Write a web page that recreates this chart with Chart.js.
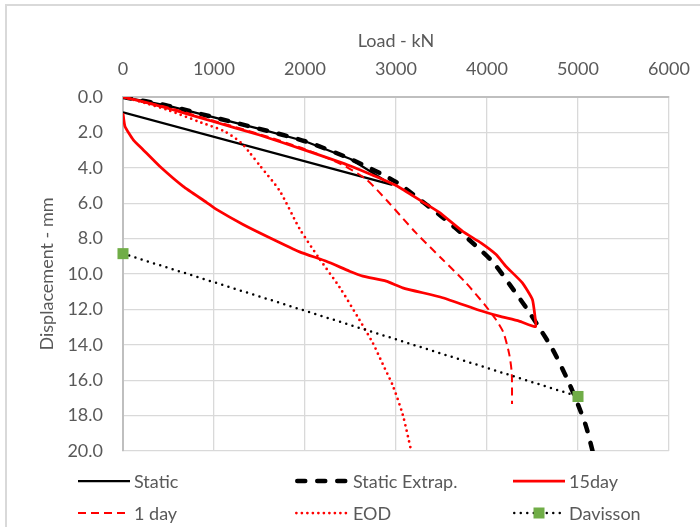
<!DOCTYPE html>
<html><head><meta charset="utf-8">
<script src="https://cdn.jsdelivr.net/npm/chart.js@4"></script>
<style>
html,body{margin:0;padding:0;background:#fff;}
#wrap{position:relative;width:700px;height:527px;overflow:hidden;font-family:Lato,'Open Sans',sans-serif;}
#frame{position:absolute;left:5px;top:4px;width:740px;height:580px;border:2px solid #d9d9d9;box-sizing:border-box;}
canvas{position:absolute;left:0;top:0;}
.lgi{position:absolute;height:22px;}
.lgi svg{position:absolute;left:0;top:0;}
.lgi span{position:absolute;top:0;font-size:18px;line-height:22px;color:#595959;white-space:nowrap;}
</style></head><body>
<div id="wrap"><div id="frame"></div><canvas id="c" width="700" height="527"></canvas><div id="legend"></div></div>
<script>
// ---- data (load in kN, displacement in mm) ----
const xTickValues = [0, 1000, 2000, 3000, 4000, 5000, 6000];
const yTickValues = [0, 2, 4, 6, 8, 10, 12, 14, 16, 18, 20];
const seriesNames = ['Static', 'Static Extrap.', '15day', '1 day', 'EOD', 'Davisson'];

const staticLoad = [0, 500, 1000, 1500, 2000, 2500, 2950, 0];
const staticDisp = [0, 0.5, 1.15, 1.8, 2.5, 3.5, 4.95, 0.86];

const extrapLoad = [0, 500, 1000, 1500, 2000, 2500, 3000, 3300, 3500, 3800, 4060, 4250, 4430, 4570, 4720, 4865, 4975, 5085, 5160];
const extrapDisp = [0, 0.5, 1.15, 1.8, 2.5, 3.5, 4.8, 5.95, 6.75, 8.05, 9.3, 10.6, 11.9, 13.0, 14.25, 15.75, 17.05, 18.55, 20.0];

const day15Load = [0, 250, 500, 1000, 1500, 2000, 2500, 3000, 3300, 3476, 3732, 3933, 4100, 4207, 4389, 4499, 4529, 4536,
                   4353, 4134, 3914, 3512, 3074, 2891, 2635, 2489, 2234, 1941, 1612, 1319, 1027, 917, 661, 406, 223, 113, 22, 0];
const day15Disp = [0, 0.3, 0.65, 1.4, 2.15, 3.0, 3.9, 5.0, 5.95, 6.52, 7.59, 8.24, 8.9, 9.56, 10.5, 11.44, 12.47, 12.98,
                   12.66, 12.38, 12.05, 11.34, 10.78, 10.4, 10.12, 9.84, 9.28, 8.75, 7.95, 7.2, 6.35, 5.95, 5.05, 3.93, 2.99, 2.42, 1.67, 0.92];

const day1Load = [0, 500, 1000, 1500, 2000, 2400, 2672, 2900, 3220, 3512, 3768, 3987, 4096, 4180, 4243, 4272, 4275];
const day1Disp = [0, 0.6, 1.35, 2.1, 2.95, 3.8, 4.65, 5.85, 7.68, 9.18, 10.5, 11.81, 12.56, 13.3, 14.5, 15.6, 17.35];

const eodLoad = [0, 250, 500, 862, 1118, 1301, 1400, 1500, 1721, 1941, 2160, 2380, 2599, 2745, 2855, 2964, 3074, 3165];
const eodDisp = [0, 0.35, 0.75, 1.45, 1.95, 2.6, 3.2, 3.85, 5.3, 7.45, 9.15, 10.75, 12.6, 13.9, 15.1, 16.3, 17.95, 19.95];

const davLoad = [0, 5000];
const davDisp = [8.85, 16.92];

const zip = (xs, ys) => xs.map((x, i) => ({x: x, y: ys[i]}));
const FONT = 'Lato, "Open Sans", sans-serif';
const TXT = '#595959';

const styles = [
  {color:'#000000', width:2.25, dash:[], cap:'butt', tension:0, order:6},
  {color:'#000000', width:4.5, dash:[8,12], cap:'round', tension:0.25, order:5},
  {color:'#ff0000', width:2.75, dash:[], cap:'butt', tension:0.15, order:4},
  {color:'#ff0000', width:2, dash:[8,5], cap:'butt', tension:0.25, order:3},
  {color:'#ff0000', width:2.75, dash:[0,5.5], cap:'round', tension:0.25, order:2},
  {color:'#000000', width:2.5, dash:[0,6.5], cap:'round', tension:0, order:1}
];
const seriesData = [
  zip(staticLoad, staticDisp), zip(extrapLoad, extrapDisp), zip(day15Load, day15Disp),
  zip(day1Load, day1Disp), zip(eodLoad, eodDisp), zip(davLoad, davDisp)
];

const datasets = seriesNames.map((name, i) => {
  const s = styles[i];
  const isDav = name === 'Davisson';
  return {
    label: name, data: seriesData[i], order: s.order,
    borderColor: s.color, backgroundColor: s.color, borderWidth: s.width,
    borderDash: s.dash, borderCapStyle: s.cap, borderJoinStyle: 'round',
    tension: s.tension, fill: false,
    pointRadius: isDav ? 7.8 : 0, pointStyle: 'rect',
    pointBackgroundColor: '#70ad47', pointBorderColor: '#70ad47', pointBorderWidth: 0,
    clip: isDav ? false : undefined
  };
});

new Chart(document.getElementById('c'), {
  type: 'line',
  data: {datasets},
  options: {
    responsive: false, animation: false, devicePixelRatio: 1,
    layout: {padding: {left: 0, top: 10, right: 31, bottom: 76}},
    plugins: {legend: {display: false}, tooltip: {enabled: false}},
    scales: {
      x: {
        type: 'linear', position: 'top', min: xTickValues[0], max: xTickValues[xTickValues.length - 1],
        afterBuildTicks: s => { s.ticks = xTickValues.map(v => ({value: v})); },
        ticks: {color: TXT, font: {family: FONT, size: 18, lineHeight: 2.2}, padding: 8, maxRotation: 0, callback: v => String(v)},
        grid: {color: '#d9d9d9', lineWidth: 1.3, drawTicks: false},
        border: {display: true, color: '#bfbfbf', width: 2},
        title: {display: true, text: 'Load - kN', color: TXT, font: {family: FONT, size: 18}, padding: {top: 20, bottom: 0}},
        afterFit: s => { s.height = 87; }
      },
      y: {
        type: 'linear', reverse: true, min: yTickValues[0], max: yTickValues[yTickValues.length - 1],
        afterBuildTicks: s => { s.ticks = yTickValues.map(v => ({value: v})); },
        ticks: {color: TXT, font: {family: FONT, size: 18}, padding: 20, callback: v => Number(v).toFixed(1)},
        grid: {color: '#d9d9d9', lineWidth: 1.3, drawTicks: false},
        border: {display: true, color: '#bfbfbf', width: 2},
        title: {display: true, text: 'Displacement - mm', color: TXT, font: {family: FONT, size: 18}, padding: {top: 36, bottom: 0}},
        afterFit: s => { s.width = 123; }
      }
    }
  }
});

// ---- HTML legend (3 columns x 2 rows) ----
const lgCols = [{line: 78, text: 134}, {line: 295, text: 353}, {line: 513, text: 569}];
const lgRows = [481, 513];
const legend = document.getElementById('legend');
seriesNames.forEach((name, i) => {
  const s = styles[i];
  const col = lgCols[i % 3], rowY = lgRows[Math.floor(i / 3)];
  const item = document.createElement('div');
  item.className = 'lgi';
  item.style.left = col.line + 'px';
  item.style.top = (rowY - 11) + 'px';
  item.style.width = '200px';
  const w = col.text - col.line - 4;
  const capPad = s.cap === 'round' ? s.width / 2 : 0;
  let svg = '<svg width="' + w + '" height="22"><line x1="' + capPad + '" y1="11" x2="' + (w - capPad) + '" y2="11" stroke="' + s.color +
    '" stroke-width="' + s.width + '" stroke-linecap="' + s.cap + '"' + (s.dash.length ? ' stroke-dasharray="' + s.dash.join(' ') + '"' : '') + '/>';
  if (name === 'Davisson') {
    svg += '<rect x="' + (w / 2 - 5.5) + '" y="5.5" width="11" height="11" fill="#70ad47"/>';
  }
  svg += '</svg>';
  item.innerHTML = svg + '<span style="left:' + (col.text - col.line) + 'px">' + name + '</span>';
  legend.appendChild(item);
});
</script>
</body></html>
